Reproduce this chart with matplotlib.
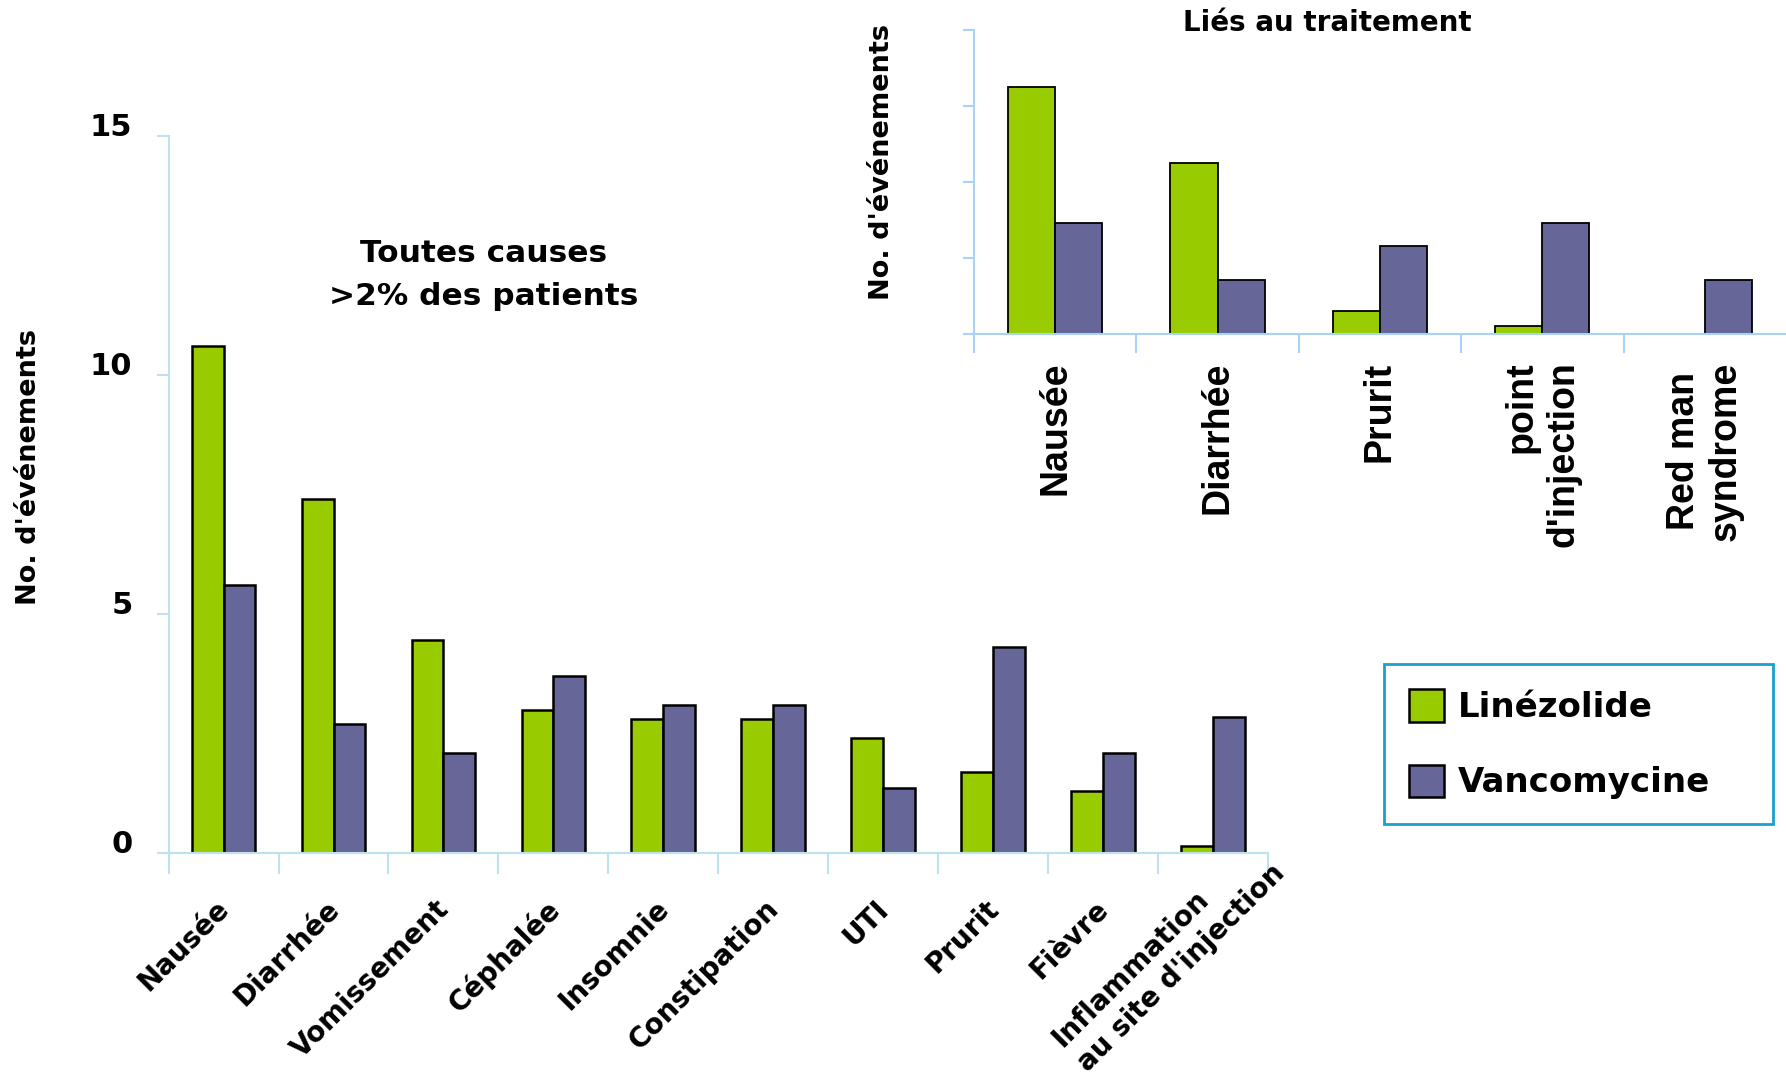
import numpy as np
import matplotlib
matplotlib.use("Agg")
from matplotlib import pyplot as plt
from matplotlib.patches import Patch

# all causes > 2% of patients
all_causes = [
    "Nausée", "Diarrhée", "Vomissement", "Céphalée", "Insomnie",
    "Constipation", "UTI", "Prurit", "Fièvre",
    "Inflammation\nau site d'injection",
]
all_linezolide = [10.6, 7.4, 4.45, 3.0, 2.8, 2.8, 2.4, 1.7, 1.3, 0.15]
all_vancomycin = [5.6, 2.7, 2.1, 3.7, 3.1, 3.1, 1.35, 4.3, 2.1, 2.85]

# treatment-related
rel_causes = ["Nausée", "Diarrhée", "Prurit", "point\nd'injection", "Red man\nsyndrome"]
rel_align = ["center", "center", "center", "right", "center"]
rel_linezolide = [6.5, 4.5, 0.6, 0.2, 0.0]
rel_vancomycin = [2.9, 1.4, 2.3, 2.9, 1.4]

GREEN = "#99cc00"
PURPLE = "#666699"
MAIN_SPINE = "#bde2ea"
INSET_SPINE = "#a8d2f8"
FONT = "DejaVu Sans"


def style_axes(ax, color):
    for side in ("top", "right"):
        ax.spines[side].set_visible(False)
    ax.spines["left"].set_color(color)
    ax.spines["bottom"].set_color(color)
    ax.spines["left"].set_linewidth(1.5)
    ax.spines["bottom"].set_linewidth(1.5)


def main():
    plt.rcParams["font.family"] = [FONT]
    fig = plt.figure(figsize=(17.86, 10.82), dpi=100)

    width = 0.29

    # main chart
    ax = fig.add_axes([0.0944, 0.2116, 0.6156, 0.663])
    x = np.arange(len(all_causes))
    ax.bar(x - width / 2, all_linezolide, width, color=GREEN, edgecolor="black", linewidth=1.8)
    ax.bar(x + width / 2, all_vancomycin, width, color=PURPLE, edgecolor="black", linewidth=1.8)
    ax.set_xlim(-0.5, len(all_causes) - 0.5)
    ax.set_ylim(0, 15)
    style_axes(ax, MAIN_SPINE)
    ax.set_yticks([0, 5, 10, 15])
    ax.set_yticklabels(["0", "5", "10", "15"], fontsize=22, fontweight="bold", va="baseline")
    ax.tick_params(axis="y", length=9, width=1.5, color=MAIN_SPINE, pad=17)
    ax.set_xticks(np.arange(len(all_causes) + 1) - 0.5)
    ax.set_xticklabels([])
    ax.tick_params(axis="x", length=15, width=1.5, color=MAIN_SPINE)
    for xi, name in zip(x, all_causes):
        if "\n" in name:
            # two-line label: left-aligned lines, second line runs further up-right
            offset, spacing = (23, 14), 1.35
        else:
            offset, spacing = (-6, -30), 1.2
        ax.annotate(
            name, xy=(xi, 0), xycoords=("data", "axes fraction"),
            xytext=offset, textcoords="offset points",
            rotation=45, ha="right", va="top", rotation_mode="anchor",
            multialignment="left", linespacing=spacing,
            fontsize=20, fontweight="bold",
        )
    fig.text(0.016, 0.568, "No. d'événements", rotation=90, ha="center", va="center",
             fontsize=19.5, fontweight="bold")
    fig.text(0.271, 0.746, "Toutes causes\n>2% des patients", ha="center", va="center",
             fontsize=22.5, fontweight="bold", linespacing=1.6)

    # inset: treatment-related
    ax2 = fig.add_axes([0.5453, 0.6916, 0.4547, 0.281])
    x2 = np.arange(len(rel_causes))
    ax2.bar(x2 - width / 2, rel_linezolide, width, color=GREEN, edgecolor="black", linewidth=1.3)
    ax2.bar(x2 + width / 2, rel_vancomycin, width, color=PURPLE, edgecolor="black", linewidth=1.3)
    ax2.set_xlim(-0.5, len(rel_causes) - 0.5)
    ax2.set_ylim(0, 8)
    style_axes(ax2, INSET_SPINE)
    ax2.set_yticks([0, 2, 4, 6, 8])
    ax2.set_yticklabels([])
    ax2.tick_params(axis="y", length=8, width=1.5, color=INSET_SPINE)
    ax2.set_xticks(np.arange(len(rel_causes)) - 0.5)
    ax2.set_xticklabels([])
    ax2.tick_params(axis="x", length=14, width=1.5, color=INSET_SPINE)
    for xi, name, al in zip(x2, rel_causes, rel_align):
        ax2.annotate(
            name, xy=(xi, 0), xycoords=("data", "axes fraction"),
            xytext=(0, -20), textcoords="offset points",
            rotation=90, ha="center", va="top", multialignment=al,
            fontsize=27, fontweight="bold", family="Liberation Sans",
        )
    fig.text(0.494, 0.85, "No. d'événements", rotation=90, ha="center", va="center",
             fontsize=19.5, fontweight="bold")
    fig.text(0.743, 0.979, "Liés au traitement", ha="center", va="center",
             fontsize=20, fontweight="bold")

    handles = [
        Patch(facecolor=GREEN, edgecolor="black", linewidth=1.8, label="Linézolide"),
        Patch(facecolor=PURPLE, edgecolor="black", linewidth=1.8, label="Vancomycine"),
    ]
    leg = fig.legend(
        handles=handles, loc="upper left", bbox_to_anchor=(0.775, 0.234, 0.218, 0.152),
        mode="expand", fancybox=False, frameon=True, handlelength=1.05, handleheight=1.1,
        handletextpad=0.4, labelspacing=1.2, borderpad=0.72, borderaxespad=0,
        prop={"size": 24.5, "weight": "bold"}, framealpha=1,
    )
    leg.get_frame().set_edgecolor("#1aa0d0")
    leg.get_frame().set_linewidth(2)

    fig.savefig("out.png", dpi=100)
    plt.close()


if __name__ == "__main__":
    main()
